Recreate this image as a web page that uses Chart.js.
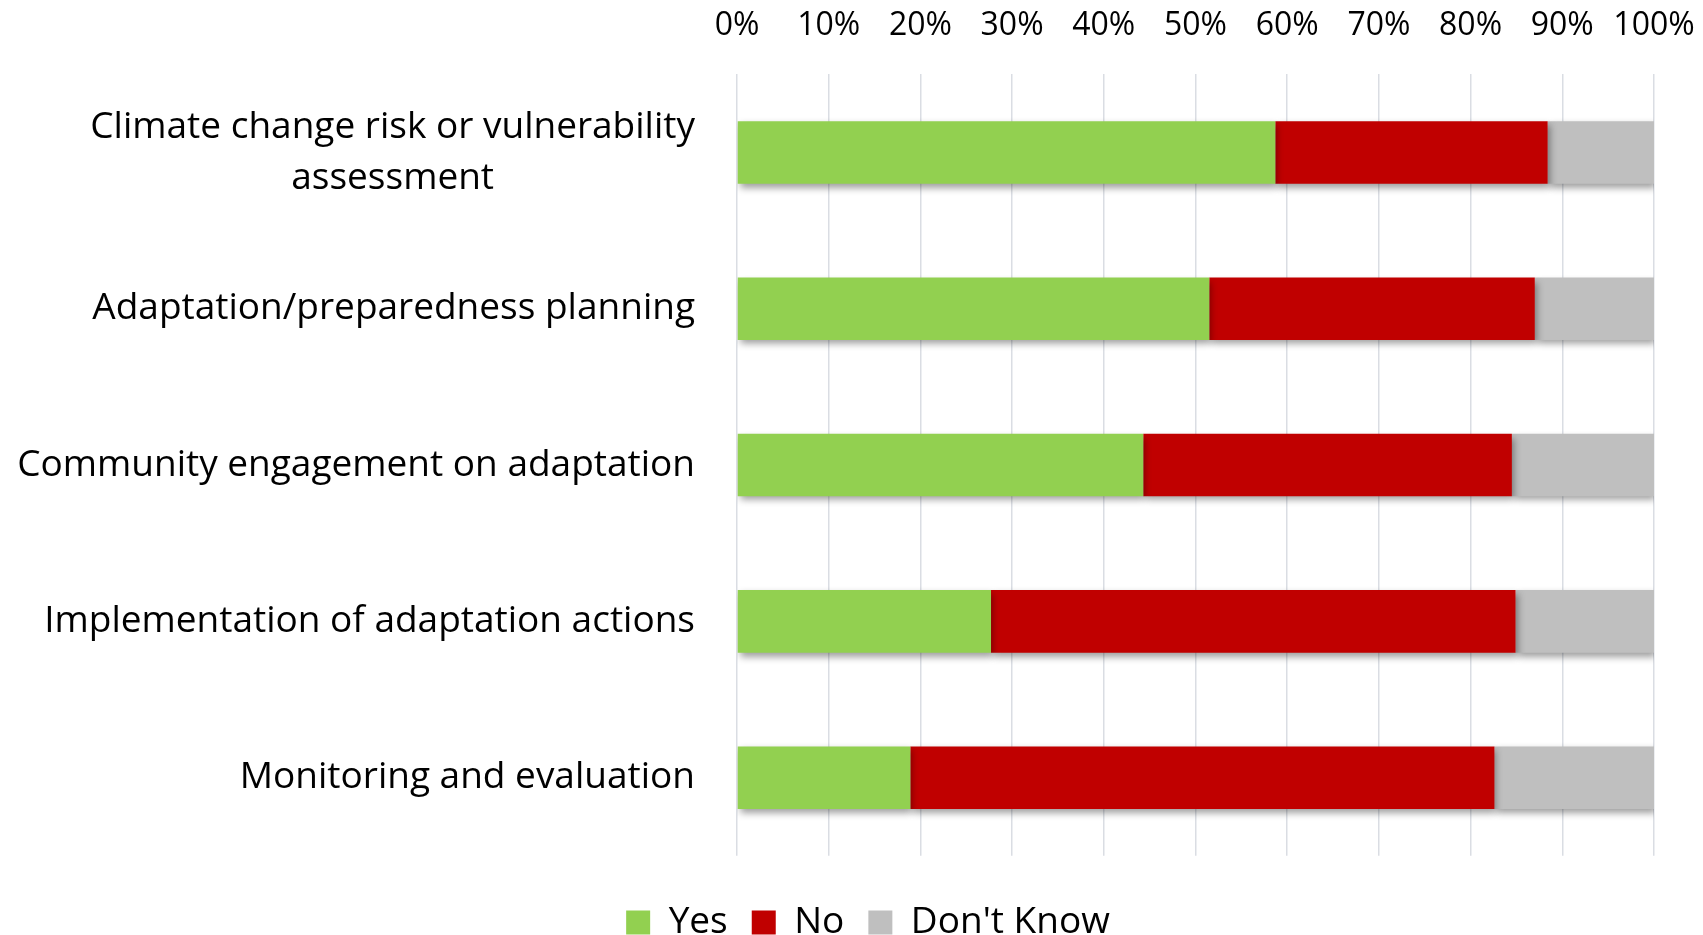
<!DOCTYPE html>
<html>
<head>
<meta charset="utf-8">
<script src="https://cdn.jsdelivr.net/npm/chart.js@4.4.1/dist/chart.umd.min.js"></script>
<style>
  html, body { margin: 0; padding: 0; background: #fff; }
  #wrap { width: 1703px; height: 935px; }
</style>
</head>
<body>
<div id="wrap"><canvas id="bar-chart"></canvas></div>
<script>
// DATA
const labels = [
  ['Climate change risk or vulnerability', 'assessment'],
  'Adaptation/preparedness planning',
  'Community engagement on adaptation',
  'Implementation of adaptation actions',
  'Monitoring and evaluation'
];
const yesValues = [58.7, 51.5, 44.3, 27.7, 18.9];
const noValues = [29.7, 35.5, 40.2, 57.2, 63.7];
const dontKnowValues = [11.6, 13.0, 15.5, 15.1, 17.4];
const seriesNames = ['Yes', 'No', "Don't Know"];

const FONT = '"Open Sans", Lato, sans-serif';
const TICK_SIZE = 32;
const LABEL_SIZE = 37;

// shadow under the bars, like the excel one
const barShadow = {
  id: 'barShadow',
  beforeDatasetsDraw(chart) {
    const c = chart.ctx;
    c.save();
    c.shadowColor = 'rgba(0,0,0,0.38)';
    c.shadowBlur = 7;
    c.shadowOffsetX = 2;
    c.shadowOffsetY = 4;
  },
  afterDatasetsDraw(chart) {
    chart.ctx.restore();
  }
};

// category labels: right aligned, wrapped lines centred on each other
const catLabels = {
  id: 'catLabels',
  afterDraw(chart) {
    const scale = chart.scales.y;
    const c = chart.ctx;
    const right = chart.chartArea.left - 42;
    const lineH = 51;
    c.save();
    c.font = LABEL_SIZE + 'px ' + FONT;
    c.fillStyle = '#000';
    c.textBaseline = 'middle';
    labels.forEach(function(lab, i) {
      const y = scale.getPixelForTick(i);
      const lines = Array.isArray(lab) ? lab : [lab];
      if (lines.length == 1) {
        c.textAlign = 'right';
        c.fillText(lines[0], right, y);
      } else {
        let widest = 0;
        lines.forEach(function(l) { widest = Math.max(widest, c.measureText(l).width); });
        c.textAlign = 'center';
        const y0 = y - (lines.length - 1) * lineH / 2;
        lines.forEach(function(l, j) { c.fillText(l, right - widest / 2, y0 + j * lineH); });
      }
    });
    c.restore();
  }
};

const data = {
  labels: labels,
  datasets: [
    { label: seriesNames[0], data: yesValues, backgroundColor: '#92D050' },
    { label: seriesNames[1], data: noValues, backgroundColor: '#C00000' },
    { label: seriesNames[2], data: dontKnowValues, backgroundColor: '#BFBFBF' }
  ]
};

const config = {
  type: 'bar',
  data: data,
  options: {
    indexAxis: 'y',
    responsive: true,
    maintainAspectRatio: false,
    animation: false,
    layout: { padding: { top: -22, right: 49, bottom: -16, left: 82 } },
    datasets: {
      bar: { barPercentage: 0.4, categoryPercentage: 1, borderWidth: 0 }
    },
    scales: {
      x: {
        position: 'top',
        stacked: true,
        min: 0,
        max: 100,
        ticks: {
          stepSize: 10,
          padding: 29,
          color: '#000',
          font: { family: FONT, size: TICK_SIZE },
          callback: function(v) { return v + '%'; }
        },
        grid: { color: '#dadde3', lineWidth: 1.5, drawTicks: false },
        border: { display: false },
        afterFit: function(scale) { scale.paddingRight = 0; scale.paddingLeft = 0; }
      },
      y: {
        stacked: true,
        ticks: { display: false },
        grid: { display: false },
        border: { display: false },
        afterFit: function(scale) { scale.width = 737 - 82; }
      }
    },
    plugins: {
      tooltip: { enabled: false },
      legend: {
        position: 'bottom',
        title: { display: true, text: '', font: { size: 1 }, padding: { top: 23, bottom: 0 } },
        labels: {
          boxWidth: 24,
          boxHeight: 24,
          padding: 24,
          color: '#000',
          font: { family: FONT, size: LABEL_SIZE }
        }
      }
    }
  },
  plugins: [barShadow, catLabels]
};

var ctx = document.getElementById('bar-chart');
var chart = new Chart(ctx, config);
</script>
</body>
</html>
